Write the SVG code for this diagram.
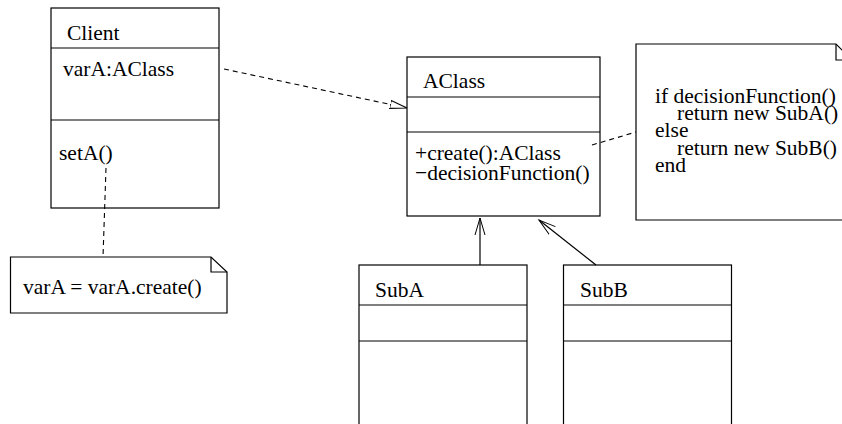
<svg xmlns="http://www.w3.org/2000/svg" width="842" height="424" viewBox="0 0 842 424">
  <style>
    .box { fill: #ffffff; stroke: #000000; stroke-width: 1.2; }
    .line { fill: none; stroke: #000000; stroke-width: 1.2; }
    .dash { fill: none; stroke: #000000; stroke-width: 1.1; stroke-dasharray: 5 4; }
    .t { font-family: "Liberation Serif", "Times New Roman", serif; font-size: 21.5px; fill: #000000; }
  </style>
  <defs>
    <marker id="hollowTri" markerUnits="userSpaceOnUse" markerWidth="20" markerHeight="12" refX="17" refY="5" orient="auto">
      <path d="M0,1 L17,5 L0,9 Z" fill="#ffffff" stroke="#000000" stroke-width="1"/>
    </marker>
    <marker id="openArrow" markerUnits="userSpaceOnUse" markerWidth="20" markerHeight="14" refX="17" refY="6" orient="auto">
      <path d="M0,1 L17,6 L0,11" fill="none" stroke="#000000" stroke-width="1"/>
    </marker>
  </defs>
  <rect width="842" height="424" fill="#ffffff"/>

  <!-- Client class -->
  <g id="client">
    <rect class="box" x="51" y="8" width="168" height="200"/>
    <line class="line" x1="51" y1="48" x2="219" y2="48"/>
    <line class="line" x1="51" y1="120" x2="219" y2="120"/>
    <text class="t" x="67" y="40">Client</text>
    <text class="t" x="63" y="76">varA:AClass</text>
    <text class="t" x="59" y="160">setA()</text>
  </g>

  <!-- AClass class -->
  <g id="aclass">
    <rect class="box" x="407" y="57" width="193" height="159"/>
    <line class="line" x1="407" y1="97" x2="600" y2="97"/>
    <line class="line" x1="407" y1="132" x2="600" y2="132"/>
    <text class="t" x="423" y="88">AClass</text>
    <text class="t" x="415" y="160">+create():AClass</text>
    <text class="t" x="415" y="180">−decisionFunction()</text>
  </g>

  <!-- note on the factory method -->
  <g id="note-create">
    <path class="box" d="M636,44 H836 L852,60 V220 H636 Z"/>
    <path class="line" d="M836,44 V60 H852"/>
    <text class="t" x="655" y="103">if decisionFunction()</text>
    <text class="t" x="677" y="120">return new SubA()</text>
    <text class="t" x="655" y="137">else</text>
    <text class="t" x="677" y="155">return new SubB()</text>
    <text class="t" x="655" y="172">end</text>
  </g>

  <!-- note on setA() -->
  <g id="note-seta">
    <path class="box" d="M10.5,257 H211 L227,272 V313 H10.5 Z"/>
    <path class="line" d="M211,257 V272 H227"/>
    <text class="t" x="23" y="294">varA = varA.create()</text>
  </g>

  <!-- SubA class -->
  <g id="suba">
    <rect class="box" x="359" y="265" width="168" height="175"/>
    <line class="line" x1="359" y1="305" x2="527" y2="305"/>
    <line class="line" x1="359" y1="341" x2="527" y2="341"/>
    <text class="t" x="375" y="297">SubA</text>
  </g>

  <!-- SubB class -->
  <g id="subb">
    <rect class="box" x="563.5" y="265" width="168" height="175"/>
    <line class="line" x1="563.5" y1="305" x2="731.5" y2="305"/>
    <line class="line" x1="563.5" y1="341" x2="731.5" y2="341"/>
    <text class="t" x="580" y="297">SubB</text>
  </g>

  <!-- connectors, drawn last so note links show inside the boxes -->
  <g id="connectors">
    <line class="dash" x1="224" y1="69" x2="407" y2="108" marker-end="url(#hollowTri)"/>
    <line class="dash" x1="592" y1="145" x2="636" y2="132"/>
    <line class="dash" x1="106" y1="168" x2="103" y2="257"/>
    <line class="line" x1="480" y1="265" x2="480" y2="218" marker-end="url(#openArrow)"/>
    <line class="line" x1="596" y1="265" x2="539" y2="220" marker-end="url(#openArrow)"/>
  </g>
</svg>
